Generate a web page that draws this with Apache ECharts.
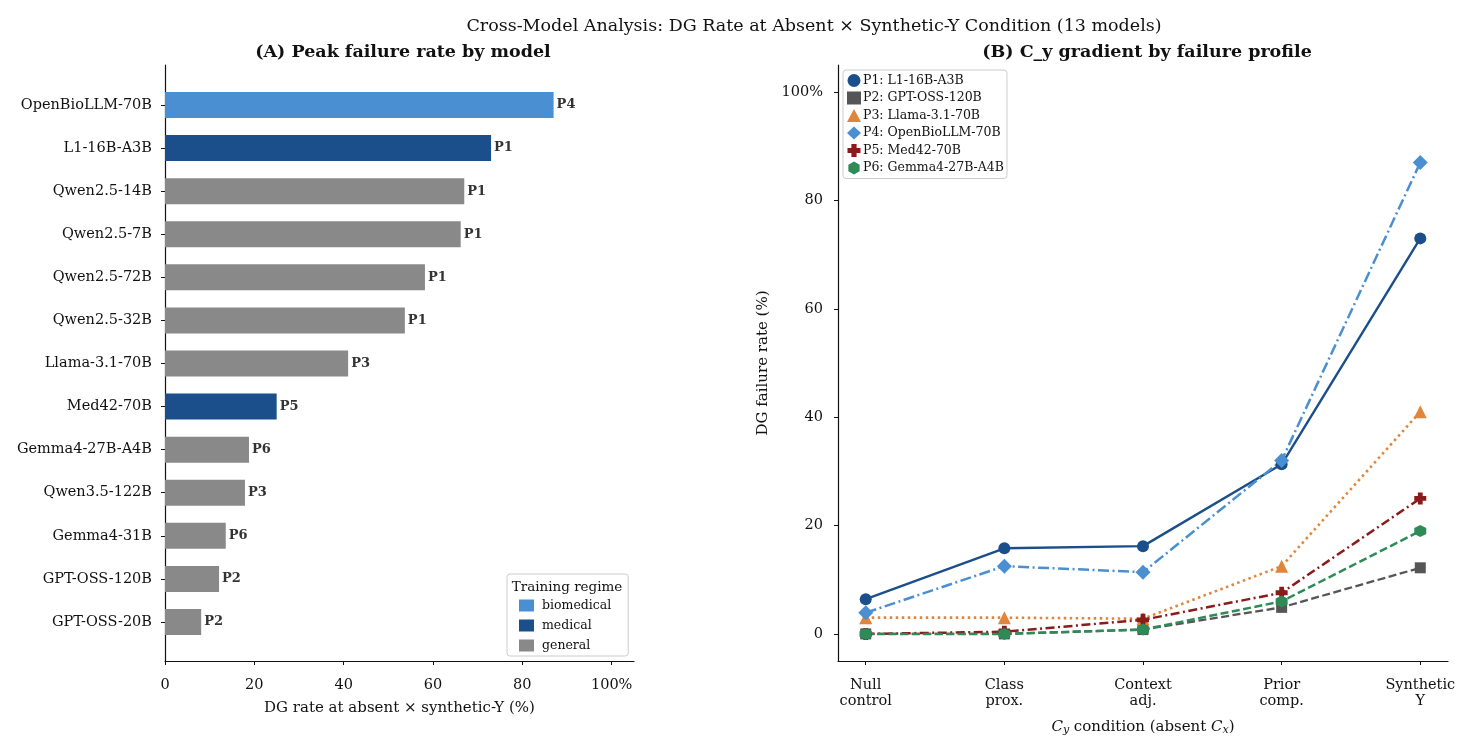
<!DOCTYPE html>
<html>
<head>
<meta charset="utf-8">
<script src="https://cdn.jsdelivr.net/npm/echarts@6/dist/echarts.min.js"></script>
<style>
  html, body { margin: 0; padding: 0; background: #fff; }
  #chart { width: 1470px; height: 752px; }
</style>
</head>
<body>
<div id="chart"></div>
<script>
// panel A data
var models = ['OpenBioLLM-70B', 'L1-16B-A3B', 'Qwen2.5-14B', 'Qwen2.5-7B', 'Qwen2.5-72B', 'Qwen2.5-32B',
    'Llama-3.1-70B', 'Med42-70B', 'Gemma4-27B-A4B', 'Qwen3.5-122B', 'Gemma4-31B', 'GPT-OSS-120B', 'GPT-OSS-20B'];
var peakRates = [87, 73, 67, 66.2, 58.2, 53.7, 41, 25, 18.8, 17.9, 13.6, 12.1, 8.1];
var profiles = ['P4', 'P1', 'P1', 'P1', 'P1', 'P1', 'P3', 'P5', 'P6', 'P3', 'P6', 'P2', 'P2'];
var regimes = ['biomedical', 'medical', 'general', 'general', 'general', 'general', 'general',
    'medical', 'general', 'general', 'general', 'general', 'general'];
var regimeNames = ['biomedical', 'medical', 'general'];

// panel B data
var conditions = ['Null\ncontrol', 'Class\nprox.', 'Context\nadj.', 'Prior\ncomp.', 'Synthetic\nY'];
var p1 = [6.4, 15.8, 16.2, 31.3, 73];
var p2 = [0, 0, 0.8, 4.9, 12.2];
var p3 = [3, 3, 2.8, 12.5, 41];
var p4 = [3.9, 12.5, 11.4, 32, 87];
var p5 = [0, 0.4, 2.6, 7.6, 25];
var p6 = [0, 0, 0.8, 6, 19];
var profileNames = ['P1: L1-16B-A3B', 'P2: GPT-OSS-120B', 'P3: Llama-3.1-70B',
    'P4: OpenBioLLM-70B', 'P5: Med42-70B', 'P6: Gemma4-27B-A4B'];

var FONT = 'DejaVu Serif';
var regimeColors = { biomedical: '#4a8fd1', medical: '#1b4f8b', general: '#898989' };

var plusPath = 'path://M3,0 L7,0 L7,3 L10,3 L10,7 L7,7 L7,10 L3,10 L3,7 L0,7 L0,3 L3,3 Z';
var hexPath = 'path://M5,0 L9.33,2.5 L9.33,7.5 L5,10 L0.67,7.5 L0.67,2.5 Z';

var dom = document.getElementById('chart');
var myChart = echarts.init(dom);

var barSeries = regimeNames.map(function (reg) {
    return {
        name: reg,
        type: 'bar',
        stack: 'peak',
        xAxisIndex: 0,
        yAxisIndex: 0,
        barWidth: 26,
        itemStyle: { color: regimeColors[reg] },
        label: {
            show: true,
            position: 'right',
            distance: 3,
            fontFamily: FONT,
            fontWeight: 'bold',
            fontSize: 13,
            color: '#333',
            formatter: function (p) { return profiles[p.dataIndex]; }
        },
        data: peakRates.map(function (v, i) { return regimes[i] === reg ? v : '-'; })
    };
});

function lineSeries(name, data, color, type, width, symbol, size) {
    return {
        name: name,
        type: 'line',
        xAxisIndex: 1,
        yAxisIndex: 1,
        data: data.map(function (v, i) { return [i, v]; }),
        symbol: symbol,
        symbolSize: size,
        showAllSymbol: true,
        itemStyle: { color: color },
        lineStyle: { color: color, width: width, type: type },
        z: 3
    };
}

var lines = [
    lineSeries(profileNames[0], p1, '#1b4f8b', 'solid', 2.4, 'circle', 12),
    lineSeries(profileNames[1], p2, '#555555', [8, 3.5], 2.3, 'rect', 11),
    lineSeries(profileNames[2], p3, '#e0853a', [2.5, 3.5], 2.6, 'triangle', 13),
    lineSeries(profileNames[3], p4, '#4a8fd1', [11, 3.5, 2, 3.5], 2.5, 'diamond', 15),
    lineSeries(profileNames[4], p5, '#8b1a1a', [9, 3.5, 2, 3.5], 2.5, plusPath, 12),
    lineSeries(profileNames[5], p6, '#2e8b57', [8, 3.5], 2.5, hexPath, 12)
];

var axisText = { fontFamily: FONT, fontSize: 14.5, color: '#111' };

option = {
    animation: false,
    textStyle: { fontFamily: FONT },
    title: [
        { text: 'Cross-Model Analysis: DG Rate at Absent × Synthetic-Y Condition (13 models)',
          left: 809, top: 12, textAlign: 'center',
          textStyle: { fontFamily: FONT, fontSize: 17.5, fontWeight: 'normal', color: '#111' } },
        { text: '(A) Peak failure rate by model', left: 398, top: 38, textAlign: 'center',
          textStyle: { fontFamily: FONT, fontSize: 17.5, fontWeight: 'bold', color: '#111' } },
        { text: '(B) C_y gradient by failure profile', left: 1142, top: 38, textAlign: 'center',
          textStyle: { fontFamily: FONT, fontSize: 17.5, fontWeight: 'bold', color: '#111' } },
        { text: 'Training regime', left: 562, top: 575, textAlign: 'center',
          textStyle: { fontFamily: FONT, fontSize: 13.5, fontWeight: 'normal', color: '#111' } }
    ],
    legend: [
        {
            data: regimeNames,
            left: 507, top: 574,
            orient: 'vertical',
            padding: [25, 17, 4, 12],
            itemWidth: 15, itemHeight: 12, itemGap: 7,
            icon: 'rect',
            borderColor: '#cccccc', borderWidth: 1, borderRadius: 3,
            backgroundColor: '#fff',
            textStyle: { fontFamily: FONT, fontSize: 12.5, color: '#111', padding: [0, 0, 0, 3] }
        },
        {
            data: [
                { name: profileNames[0], icon: 'circle' },
                { name: profileNames[1], icon: 'rect' },
                { name: profileNames[2], icon: 'triangle' },
                { name: profileNames[3], icon: 'diamond' },
                { name: profileNames[4], icon: plusPath },
                { name: profileNames[5], icon: hexPath }
            ],
            left: 843, top: 70,
            orient: 'vertical',
            padding: [4, 3, 4, 4],
            itemWidth: 14, itemHeight: 13, itemGap: 4.5,
            borderColor: '#cccccc', borderWidth: 1, borderRadius: 3,
            backgroundColor: '#fff',
            textStyle: { fontFamily: FONT, fontSize: 12.5, color: '#111', padding: [0, 0, 0, -3] }
        }
    ],
    grid: [
        { left: 165, right: 836, top: 83.5, bottom: 108.5 },
        { left: 838, right: 22, top: 65, bottom: 91 },
        { left: 165, right: 836, top: 65, bottom: 91 }
    ],
    xAxis: [
        { type: 'value', gridIndex: 0, min: 0, max: 105, show: false },
        {
            type: 'value', gridIndex: 1, min: -0.2, max: 4.2,
            splitLine: { show: false },
            axisLine: { show: true, onZero: false, lineStyle: { color: '#111', width: 1.2 } },
            axisTick: { show: true, length: 4, customValues: [0, 1, 2, 3, 4], lineStyle: { color: '#111' } },
            axisLabel: Object.assign({ margin: 16, lineHeight: 16, customValues: [0, 1, 2, 3, 4],
                formatter: function (v) { return conditions[v]; } }, axisText),
            name: '{i|C}{s|y} condition (absent {i|C}{s|x})',
            nameLocation: 'middle', nameGap: 58,
            nameTextStyle: {
                fontFamily: FONT, fontSize: 15, color: '#111',
                rich: {
                    i: { fontFamily: FONT, fontSize: 15, fontStyle: 'italic', color: '#111' },
                    s: { fontFamily: FONT, fontSize: 11, fontStyle: 'italic', color: '#111', verticalAlign: 'bottom', padding: [6, 0, 0, 0] }
                }
            }
        },
        {
            type: 'value', gridIndex: 2, min: 0, max: 105, interval: 20,
            splitLine: { show: false },
            axisLine: { show: true, onZero: false, lineStyle: { color: '#111', width: 1.2 } },
            axisTick: { show: true, length: 4, lineStyle: { color: '#111' } },
            axisLabel: Object.assign({ margin: 17,
                formatter: function (v) { return v === 100 ? '100%' : v; } }, axisText),
            name: 'DG rate at absent × synthetic-Y (%)',
            nameLocation: 'middle', nameGap: 40,
            nameTextStyle: { fontFamily: FONT, fontSize: 15, color: '#111' }
        }
    ],
    yAxis: [
        {
            type: 'category', gridIndex: 0, data: models, inverse: true,
            axisLine: { show: false },
            axisTick: { show: true, length: 4, alignWithLabel: true, lineStyle: { color: '#111' } },
            axisLabel: Object.assign({ margin: 13 }, axisText)
        },
        {
            type: 'value', gridIndex: 1, min: -5, max: 105,
            splitLine: { show: false },
            axisLine: { show: true, onZero: false, lineStyle: { color: '#111', width: 1.2 } },
            axisTick: { show: true, length: 4, customValues: [0, 20, 40, 60, 80, 100], lineStyle: { color: '#111' } },
            axisLabel: Object.assign({ margin: 15, customValues: [0, 20, 40, 60, 80, 100],
                formatter: function (v) { return v === 100 ? '100%' : v; } }, axisText),
            name: 'DG failure rate (%)',
            nameLocation: 'middle', nameGap: 67,
            nameTextStyle: { fontFamily: FONT, fontSize: 15, color: '#111' }
        },
        {
            type: 'value', gridIndex: 2, min: 0, max: 1,
            splitLine: { show: false },
            axisLine: { show: true, onZero: false, lineStyle: { color: '#111', width: 1.2 } },
            axisTick: { show: false },
            axisLabel: { show: false }
        }
    ],
    series: barSeries.concat(lines)
};

if (option && typeof option === "object") {
    myChart.setOption(option, true);
}
</script>
</body>
</html>
